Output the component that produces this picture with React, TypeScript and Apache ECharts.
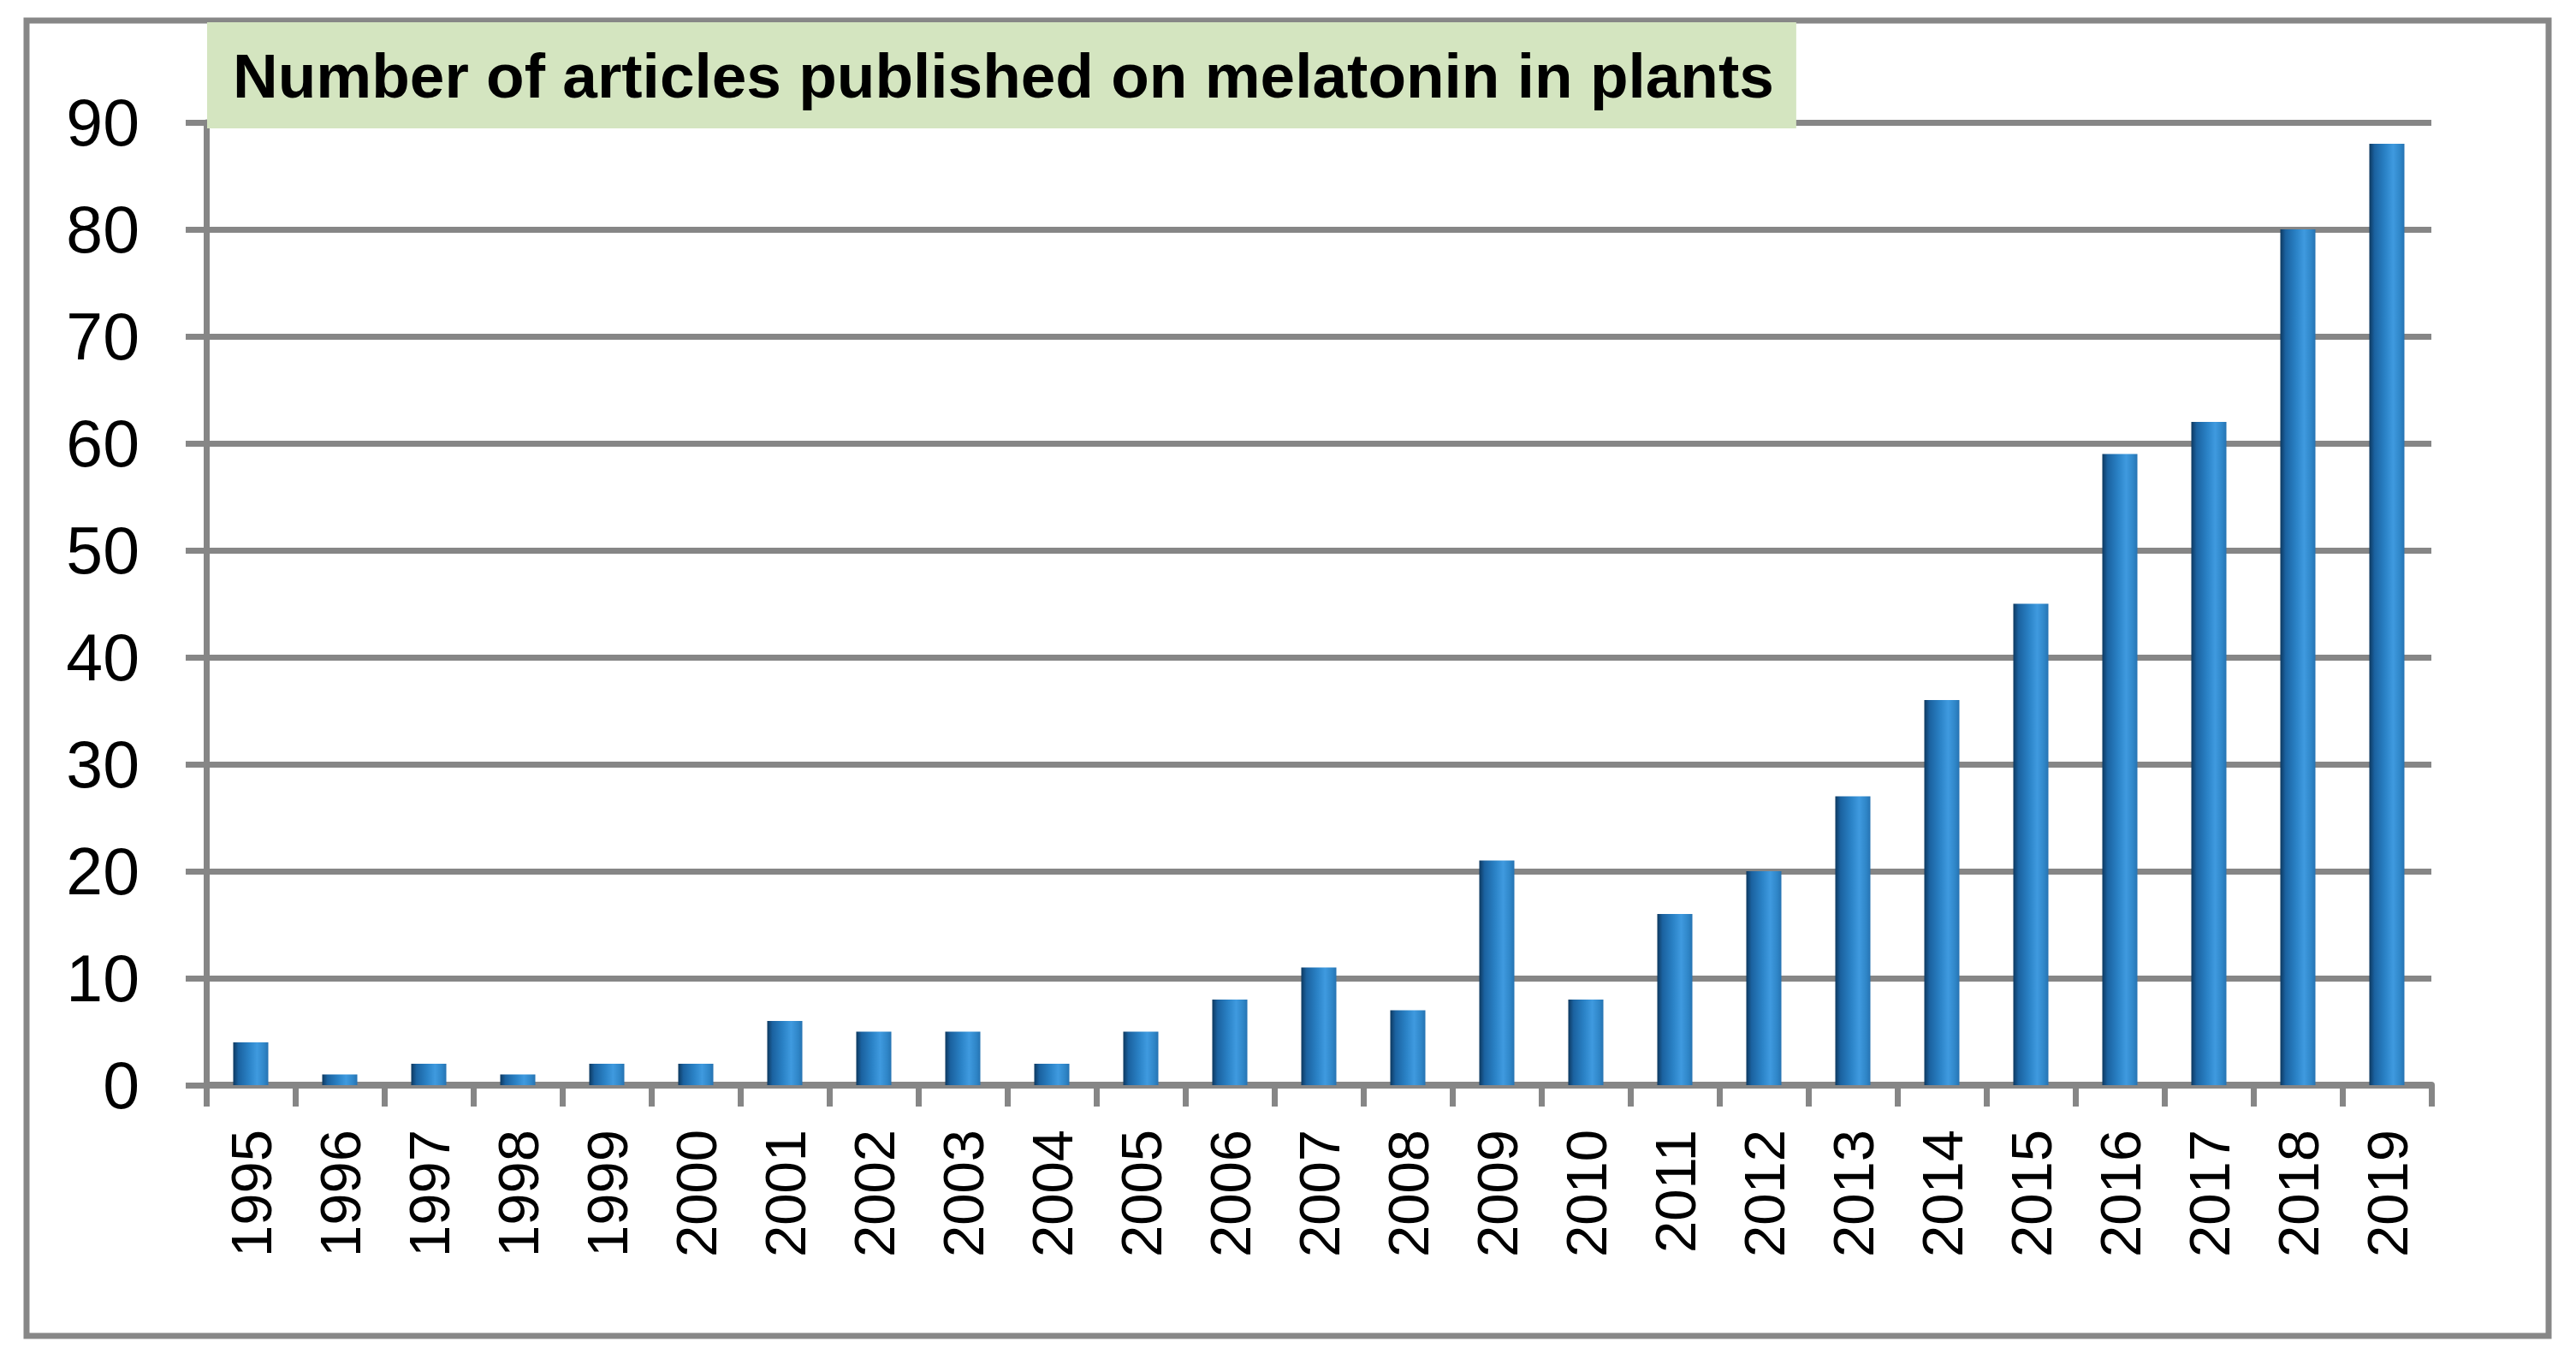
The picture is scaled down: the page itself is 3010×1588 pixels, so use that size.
import React, { useEffect, useRef } from "react";
import * as echarts from "echarts";

const years = [
  "1995", "1996", "1997", "1998", "1999", "2000", "2001", "2002", "2003", "2004",
  "2005", "2006", "2007", "2008", "2009", "2010", "2011", "2012", "2013", "2014",
  "2015", "2016", "2017", "2018", "2019",
];
const articles = [4, 1, 2, 1, 2, 2, 6, 5, 5, 2, 5, 8, 11, 7, 21, 8, 16, 20, 27, 36, 45, 59, 62, 80, 88];
const titleText = "Number of articles published on melatonin in plants";

const GRAY = "#868686";
const FONT = "'Liberation Sans', Arial, sans-serif";

export default function App() {
  const ref = useRef<HTMLDivElement>(null);

  useEffect(() => {
    if (!ref.current) return;
    const chart = echarts.init(ref.current, null, { renderer: "svg" });
    const barGradient = new echarts.graphic.LinearGradient(0, 0, 1, 0, [
      { offset: 0, color: "#0d3960" },
      { offset: 0.15, color: "#1b62a0" },
      { offset: 0.45, color: "#2a82c6" },
      { offset: 0.68, color: "#3f9adf" },
      { offset: 0.88, color: "#2f86c8" },
      { offset: 1, color: "#2673b2" },
    ]);
    chart.setOption({
      animation: false,
      backgroundColor: "#ffffff",
      title: {
        text: titleText,
        left: 242,
        top: 26,
        backgroundColor: "#d4e5c0",
        padding: [20, 26, 20, 30],
        textStyle: {
          fontFamily: FONT,
          fontWeight: "bold",
          fontSize: 73,
          lineHeight: 84,
          color: "#000000",
        },
        z: 10,
      },
      graphic: [
        {
          type: "rect",
          shape: { x: 31, y: 24, width: 2947, height: 1537 },
          style: { fill: "none", stroke: "#878787", lineWidth: 7 },
          silent: true,
          z: 1,
        },
      ],
      grid: {
        left: 241,
        right: 169,
        top: 143,
        bottom: 320,
        containLabel: false,
      },
      xAxis: {
        type: "category",
        data: years,
        boundaryGap: true,
        axisLine: { show: true, lineStyle: { color: GRAY, width: 8 } },
        axisTick: {
          show: true,
          alignWithLabel: false,
          length: 25,
          lineStyle: { color: GRAY, width: 7 },
        },
        axisLabel: {
          rotate: 90,
          margin: 52,
          fontSize: 67,
          fontFamily: FONT,
          color: "#000000",
        },
        splitLine: { show: false },
      },
      yAxis: {
        type: "value",
        min: 0,
        max: 90,
        interval: 10,
        axisLine: { show: true, lineStyle: { color: GRAY, width: 7 } },
        axisTick: {
          show: true,
          length: 24,
          lineStyle: { color: GRAY, width: 7 },
        },
        axisLabel: {
          margin: 78,
          fontSize: 77,
          fontFamily: FONT,
          color: "#000000",
        },
        splitLine: {
          show: true,
          lineStyle: { color: GRAY, width: 7 },
        },
      },
      series: [
        {
          type: "bar",
          data: articles,
          barWidth: 41,
          itemStyle: { color: barGradient },
          z: 3,
        },
      ],
    });
    return () => chart.dispose();
  }, []);

  return (
    <div
      ref={ref}
      style={{ position: "fixed", left: 0, top: 0, width: 3010, height: 1588, background: "#fff" }}
    />
  );
}
